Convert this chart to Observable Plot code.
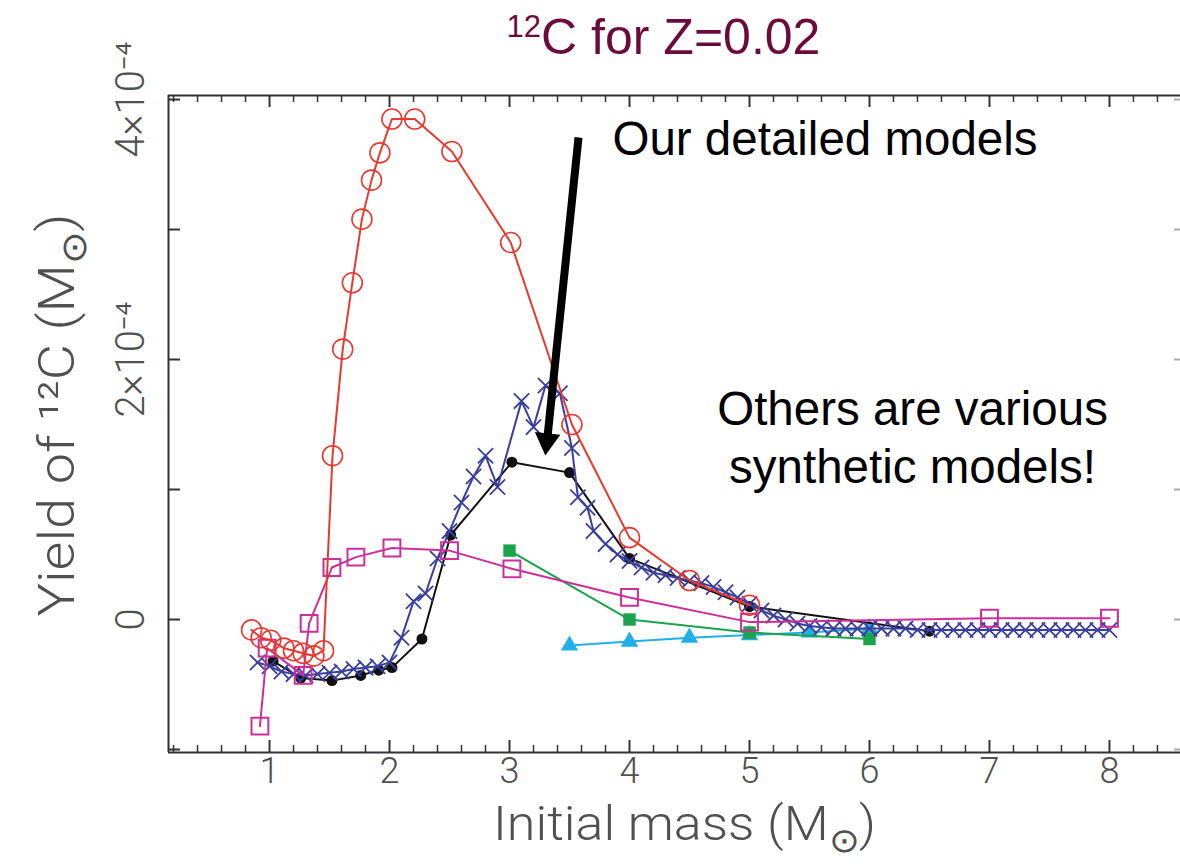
<!DOCTYPE html>
<html>
<head>
<meta charset="utf-8">
<script src="https://cdn.jsdelivr.net/npm/d3@7"></script>
<script src="https://cdn.jsdelivr.net/npm/@observablehq/plot@0.6"></script>
<style>
  html, body { margin: 0; padding: 0; background: #fff; }
  #wrap { position: relative; width: 1180px; height: 867px; overflow: hidden; }
  #title { position: absolute; left: 0; top: 12px; width: 1327px; text-align: center;
    font-family: "Liberation Sans", Arial, sans-serif; font-size: 50px; line-height: 50px; color: #6b0b3c; }
  #title sup { font-size: 31px; vertical-align: 17px; line-height: 0; }
  #chart { position: absolute; left: 0; top: 0; }
</style>
</head>
<body>
<div id="wrap">
  <div id="chart"></div>
  <div id="title"><sup>12</sup>C for Z=0.02</div>
</div>
<script>
// ---- Data (yields in units of 1e-4 solar masses) ----
const redMass  = [0.85, 0.93, 1.01, 1.12, 1.2, 1.28, 1.37, 1.45, 1.525, 1.61, 1.69, 1.77, 1.85, 1.92, 2.02, 2.21, 2.52, 3.01, 3.52, 4.0, 4.5, 5.0];
const redYield = [-0.08, -0.14, -0.16, -0.22, -0.24, -0.26, -0.28, -0.24, 1.26, 2.08, 2.59, 3.08, 3.38, 3.59, 3.85, 3.85, 3.6, 2.9, 1.5, 0.63, 0.3, 0.11];

const blueMass  = [0.9, 1.0, 1.1, 1.2, 1.3, 1.4, 1.5, 1.6, 1.7, 1.8, 1.9, 2.0, 2.1, 2.2, 2.3, 2.4, 2.5, 2.6, 2.7, 2.8, 2.9, 3.1, 3.2, 3.3, 3.42, 3.52, 3.57, 3.65, 3.7, 3.8, 3.9, 4.0, 4.1, 4.2, 4.3, 4.4, 4.5, 4.6, 4.7, 4.8, 4.9, 5.0, 5.1, 5.2, 5.3, 5.4, 5.5, 5.6, 5.7, 5.8, 5.9, 6.0, 6.1, 6.2, 6.3, 6.4, 6.5, 6.6, 6.7, 6.8, 6.9, 7.0, 7.1, 7.2, 7.3, 7.4, 7.5, 7.6, 7.7, 7.8, 7.9, 8.0];
const blueYield = [-0.33, -0.36, -0.4, -0.42, -0.43, -0.42, -0.41, -0.4, -0.38, -0.37, -0.36, -0.33, -0.14, 0.14, 0.2, 0.47, 0.68, 0.9, 1.1, 1.26, 1.02, 1.68, 1.48, 1.8, 1.74, 1.32, 0.94, 0.86, 0.68, 0.58, 0.5, 0.45, 0.4, 0.36, 0.34, 0.32, 0.3, 0.28, 0.25, 0.21, 0.17, 0.12, 0.07, 0.03, 0.0, -0.03, -0.05, -0.06, -0.07, -0.07, -0.07, -0.07, -0.07, -0.07, -0.07, -0.08, -0.08, -0.08, -0.08, -0.08, -0.08, -0.08, -0.08, -0.08, -0.08, -0.08, -0.08, -0.08, -0.08, -0.08, -0.08, -0.08];

const blackMass  = [1.03, 1.26, 1.52, 1.76, 1.91, 2.02, 2.27, 2.51, 3.02, 3.5, 4.0, 5.0, 6.5];
const blackYield = [-0.32, -0.45, -0.47, -0.43, -0.39, -0.37, -0.15, 0.65, 1.21, 1.13, 0.47, 0.1, -0.09];

const pinkMass  = [0.92, 0.98, 1.28, 1.33, 1.52, 1.72, 2.02, 2.5, 3.02, 4.0, 5.0, 7.0, 8.0];
const pinkYield = [-0.82, -0.22, -0.43, -0.03, 0.4, 0.48, 0.55, 0.53, 0.39, 0.17, -0.02, 0.01, 0.01];

const greenMass  = [3.0, 4.0, 5.0, 6.0];
const greenYield = [0.53, 0.0, -0.1, -0.15];

const cyanMass  = [3.5, 4.0, 4.5, 5.0, 5.5, 6.0];
const cyanYield = [-0.2, -0.17, -0.14, -0.12, -0.1, -0.07];

const xTickLabels = [1, 2, 3, 4, 5, 6, 7, 8];
const yTickLabels = [0, 2, 4];
const yTickText = ["0", "2×10⁻⁴", "4×10⁻⁴"];
const yTickMarks = [-1, 0, 1, 2, 3, 4];

// ---- Layout ----
const W = 1180, H = 867, mL = 168, mT = 95, mB = 115, mR = 0;
const xMin = 0.158, xMax = 8.592, yMin = -1.023, yMax = 4.031;
const pxX = (xMax - xMin) / (W - mL - mR);
const pxY = (yMax - yMin) / (H - mT - mB);

const mk = (ms, ys) => ms.map((m, i) => ({m, v: ys[i]}));
const red = mk(redMass, redYield), blue = mk(blueMass, blueYield), black = mk(blackMass, blackYield);
const pink = mk(pinkMass, pinkYield), green = mk(greenMass, greenYield), cyan = mk(cyanMass, cyanYield);

const minorX = d3.range(1, 43).map(i => i * 0.2).filter(v => Math.abs(v - Math.round(v)) > 1e-6);
const axisFont = "Roboto, 'Liberation Sans', sans-serif";
const annFont = "'Liberation Sans', Arial, sans-serif";
const frameColor = "#333";
const axisText = "#505050";

const C = {red: "#e8382f", blue: "#3a3f9e", black: "#111", pink: "#cc2f9a", green: "#1aa34a", cyan: "#22aee6"};

const plot = Plot.plot({
  width: W, height: H,
  marginLeft: mL, marginTop: mT, marginBottom: mB, marginRight: mR,
  x: {domain: [xMin, xMax], axis: null},
  y: {domain: [yMin, yMax], axis: null},
  marks: [
    // frame (top, bottom, left)
    Plot.ruleY([yMin, yMax], {stroke: frameColor, strokeWidth: 2}),
    Plot.ruleX([xMin], {stroke: frameColor, strokeWidth: 2}),
    // x ticks bottom & top (inward)
    Plot.ruleX(xTickLabels, {x: d => d, y1: yMin, y2: yMin + 12 * pxY, stroke: frameColor, strokeWidth: 2}),
    Plot.ruleX(minorX, {x: d => d, y1: yMin, y2: yMin + 7 * pxY, stroke: frameColor, strokeWidth: 1.5}),
    Plot.ruleX(xTickLabels, {x: d => d, y1: yMax, y2: yMax - 12 * pxY, stroke: frameColor, strokeWidth: 2}),
    Plot.ruleX(minorX, {x: d => d, y1: yMax, y2: yMax - 7 * pxY, stroke: frameColor, strokeWidth: 1.5}),
    // y ticks left & right
    Plot.ruleY(yTickMarks, {y: d => d, x1: xMin, x2: xMin + 12 * pxX, stroke: frameColor, strokeWidth: 2}),
    Plot.ruleY(yTickMarks, {y: d => d, x1: xMax - 6 * pxX, x2: xMax, stroke: "#aaa", strokeWidth: 2}),
    // tick labels
    Plot.text(xTickLabels, {x: d => d, frameAnchor: "bottom", dy: 19, text: d => String(d),
      fontSize: 36, fontWeight: 300, fill: axisText, fontFamily: axisFont, lineAnchor: "middle", textAnchor: "middle"}),
    Plot.text(yTickLabels, {y: d => d, frameAnchor: "left", dx: -37, rotate: -90, textAnchor: "middle",
      text: (d, i) => yTickText[i], fontSize: 40, fontWeight: 300, fill: axisText, fontFamily: axisFont, lineAnchor: "middle"}),
    Plot.text(["Initial mass (M⊙)"], {frameAnchor: "bottom", dx: 10, dy: 72, text: d => d, textAnchor: "middle",
      fontSize: 48, fontWeight: 300, fill: axisText, fontFamily: axisFont, lineAnchor: "middle"}),
    Plot.text(["Yield of ¹²C (M⊙)"], {frameAnchor: "left", dx: -111, dy: -9, rotate: -90, text: d => d, textAnchor: "middle",
      fontSize: 50, fontWeight: 300, fill: axisText, fontFamily: axisFont, lineAnchor: "middle"}),
    // series
    Plot.line(cyan, {x: "m", y: "v", stroke: C.cyan, strokeWidth: 2}),
    Plot.dot(cyan, {x: "m", y: "v", symbol: "triangle", r: 6.5, fill: C.cyan, stroke: "none"}),
    Plot.line(green, {x: "m", y: "v", stroke: C.green, strokeWidth: 2}),
    Plot.dot(green, {x: "m", y: "v", symbol: "square", r: 7, fill: C.green, stroke: "none"}),
    Plot.line(black, {x: "m", y: "v", stroke: C.black, strokeWidth: 2}),
    Plot.dot(black, {x: "m", y: "v", r: 5.5, fill: C.black, stroke: "none"}),
    Plot.line(blue, {x: "m", y: "v", stroke: C.blue, strokeWidth: 2}),
    Plot.dot(blue, {x: "m", y: "v", symbol: "times", r: 7, stroke: C.blue, strokeWidth: 1.8}),
    Plot.line(pink, {x: "m", y: "v", stroke: C.pink, strokeWidth: 2}),
    Plot.dot(pink, {x: "m", y: "v", symbol: "square", r: 9.5, fill: "none", stroke: C.pink, strokeWidth: 2}),
    Plot.line(red, {x: "m", y: "v", stroke: C.red, strokeWidth: 2}),
    Plot.dot(red, {x: "m", y: "v", r: 10, fill: "none", stroke: C.red, strokeWidth: 1.6}),
    // annotation arrow
    Plot.link([0], {x1: 3.575, y1: 3.708, x2: 3.317, y2: 1.408, stroke: "#000", strokeWidth: 8}),
    Plot.dot([0], {x: 3.311, y: 1.375, symbol: "triangle", r: 9.5, rotate: 186, fill: "#000", stroke: "none"}),
    // annotation texts
    Plot.text(["Our detailed models"], {x: 3.858, y: 3.575, text: d => d, textAnchor: "start", lineAnchor: "bottom",
      fontSize: 47.5, fill: "#000", fontFamily: annFont}),
    Plot.text(["Others are various\nsynthetic models!"], {x: 6.359, y: 1.047, text: d => d, textAnchor: "middle", lineAnchor: "bottom",
      lineHeight: 1.22, fontSize: 47.5, fill: "#000", fontFamily: annFont})
  ]
});

// subscript solar symbol and fitted label lengths
const ns = "http://www.w3.org/2000/svg";
const fitLen = {"Initial mass (M⊙)": 383, "Yield of ¹²C (M⊙)": 403};
plot.querySelectorAll("text").forEach(t => {
  const s = t.textContent;
  if (s in fitLen && t.children.length === 0) {
    const pre = s.replace("(M⊙)", "");
    t.textContent = "";
    t.appendChild(document.createTextNode(pre + "(M"));
    const sub = document.createElementNS(ns, "tspan");
    sub.setAttribute("dy", "0.35em");
    sub.setAttribute("font-size", "0.7em");
    sub.textContent = "⊙";
    t.appendChild(sub);
    const close = document.createElementNS(ns, "tspan");
    close.setAttribute("dy", "-0.25em");
    close.textContent = ")";
    t.appendChild(close);
    t.setAttribute("textLength", fitLen[s]);
    t.setAttribute("lengthAdjust", "spacingAndGlyphs");
  }
});

document.getElementById("chart").appendChild(plot);
</script>
</body>
</html>
